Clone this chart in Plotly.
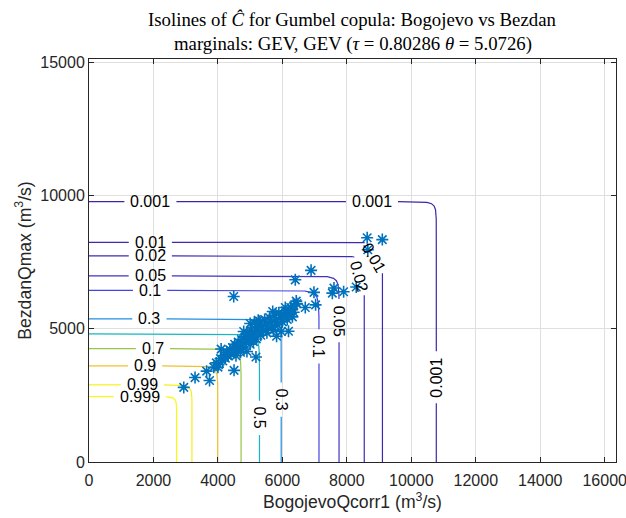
import numpy as np
import plotly.graph_objects as go

# Survival probability levels drawn as isolines
levels = [0.001, 0.01, 0.02, 0.05, 0.1, 0.3, 0.5, 0.7, 0.9, 0.99, 0.999]
# Marginal quantiles (m3/s) at non-exceedance probability 1 - level
bogojevo_quant = [10775, 9104, 8540, 7757, 7135, 5963, 5289, 4718, 3994, 3194, 2718]
bezdan_quant = [9775, 8248, 7737, 6987, 6447, 5373, 4810, 4259, 3610, 2897, 2458]

theta = 5.0726
tau = 0.80286

# Observed annual maxima: Bogojevo (x) vs Bezdan (y), m3/s
bogojevo_qmax = [
    3870, 3950, 4020, 4080, 4150, 4180, 4230, 4280, 4320, 4370, 4400, 4450,
    4480, 4520, 4560, 4590, 4630, 4660, 4700, 4730, 4760, 4800, 4840, 4870,
    4900, 4930, 4960, 5000, 5030, 5060, 5100, 5130, 5150, 5190, 5220, 5260,
    5300, 5330, 5370, 5410, 5450, 5480, 5520, 5560, 5600, 5640, 5680, 5720,
    5760, 5800, 5850, 5890, 5930, 5970, 6000, 6050, 6100, 6150, 6200, 6260,
    6310, 6350, 5000, 4800, 5250, 5700,
    2940, 3290, 3650, 3740, 4000, 4100, 4500, 5180, 5820, 6190, 4490, 5980,
    6300, 6090, 6430, 6710, 6980, 7030, 6400, 6890, 7550, 7600, 7900, 8290,
    8630, 8650, 9100, 6350, 6450,
]
bezdan_qmax = [
    3560, 3720, 3650, 3880, 3790, 4000, 3900, 4120, 3980, 4210, 4060, 4300,
    4150, 4420, 3990, 4250, 4500, 4330, 4120, 4600, 4420, 4280, 4700, 4520,
    4150, 4800, 4600, 4420, 4950, 4700, 4520, 5220, 4850, 4620, 5050, 4900,
    5280, 4760, 5100, 4950, 5350, 5180, 4850, 5020, 5420, 5250, 5100, 4950,
    5500, 5330, 5150, 5600, 5420, 4900, 5260, 5500, 5680, 5350, 5550, 5800,
    5450, 5620, 5200, 4900, 5320, 5650,
    2800, 3170, 3410, 3060, 3560, 4240, 3440, 3940, 4720, 4910, 6215, 5540,
    5740, 5800, 6040, 5800, 6370, 5900, 6840, 7195, 6340, 6530, 6390, 6570,
    8420, 7970, 8350, 5860, 5950,
]

# Contour label placement: (level, anchor x, anchor y, read upward)
label_spots = [
    (0.001, 1880, 9775, False), (0.001, 8780, 9775, False),
    (0.01, 2170, 8248, False), (0.02, 2020, 7737, False),
    (0.05, 1760, 6987, False), (0.1, 1390, 6447, False),
    (0.3, 1050, 5373, False), (0.7, 1985, 4259, False),
    (0.9, 1740, 3610, False), (0.99, 1655, 2897, False),
    (0.999, 1577, 2458, False),
    (0.5, 5289, 1470, False), (0.3, 5963, 2345, False),
    (0.1, 7135, 4345, False), (0.05, 7757, 5310, False),
    (0.02, 8545, 7073, False), (0.01, 9104, 7899, False),
    (0.001, 10775, 3190, True),
]

# parula colours for each level
level_colors = {
    0.001: "#3e26a8", 0.01: "#3e28ad", 0.02: "#3f2bb3", 0.05: "#4032c4",
    0.1: "#4444e0", 0.3: "#1f8fe6", 0.5: "#17b6c2", 0.7: "#98c644",
    0.9: "#f0c030", 0.99: "#f6ef18", 0.999: "#f9fb0e",
}

W, H = 626, 518
ML, MR, MT, MB = 89, 10, 59, 56
PW, PH = W - ML - MR, H - MT - MB
XMAX, YMAX = 16350, 15130
LABEL_FS = 16
TICK_FS = 16
TITLE_FS = 17.6
SANS = "Liberation Sans, Arial, sans-serif"
SERIF = "Liberation Serif, Times New Roman, serif"


def make_quantile(q):
    p = 1 - np.array(levels, dtype=float)
    z = -np.log(-np.log(p))
    order = np.argsort(z)
    z = z[order]
    qv = np.array(q, dtype=float)[order]
    s0 = (qv[1] - qv[0]) / (z[1] - z[0])
    s1 = (qv[-1] - qv[-2]) / (z[-1] - z[-2])

    def quant(pp):
        zz = -np.log(-np.log(pp))
        out = np.interp(zz, z, qv)
        out = np.where(zz < z[0], qv[0] + (zz - z[0]) * s0, out)
        out = np.where(zz > z[-1], qv[-1] + (zz - z[-1]) * s1, out)
        return out
    return quant


qx = make_quantile(bogojevo_quant)
qy = make_quantile(bezdan_quant)


def gumbel(u, v):
    return np.exp(-((-np.log(u)) ** theta + (-np.log(v)) ** theta) ** (1 / theta))


def joint_survival(u, v):
    return 1 - u - v + gumbel(u, v)


def solve_other(a, t):
    lo = np.zeros_like(a)
    hi = np.ones_like(a)
    for _ in range(90):
        mid = 0.5 * (lo + hi)
        f = joint_survival(a, mid) - t
        lo = np.where(f > 0, mid, lo)
        hi = np.where(f > 0, hi, mid)
    return 0.5 * (lo + hi)


def isoline(t):
    w = np.concatenate([np.linspace(1e-6, 1, 300), 1 - np.logspace(-11, -0.3, 400)])
    w = np.unique(np.clip(w, 1e-6, 1 - 1e-12))
    a = (1 - t) * w
    b = solve_other(a, t)
    u = np.concatenate([a, b])
    v = np.concatenate([b, a])
    order = np.argsort(u - v)
    x = qx(u[order])
    y = qy(v[order])
    keep = (x >= 0) & (y >= 0)
    x, y = x[keep], y[keep]
    x = np.concatenate([[0.0], x, [x[-1]]])
    y = np.concatenate([[y[0]], y, [0.0]])
    return x, y


def to_px(x, y):
    return ML + x / XMAX * PW, MT + (YMAX - y) / YMAX * PH


def from_px(px, py):
    return (px - ML) / PW * XMAX, YMAX - (py - MT) / PH * YMAX


def text_width(s):
    return LABEL_FS * sum(0.278 if c == "." else 0.556 for c in s)


fig = go.Figure()
annotations = []

for t in levels:
    x, y = isoline(t)
    px, py = to_px(x, y)
    s = np.concatenate([[0.0], np.cumsum(np.hypot(np.diff(px), np.diff(py)))])
    gaps = []
    for lv, ax, ay, upward in label_spots:
        if lv != t:
            continue
        apx, apy = to_px(ax, ay)
        i0 = int(np.argmin(np.hypot(px - apx, py - apy)))
        txt = f"{t:g}"
        half = (text_width(txt) + 12) / 2
        sa, sb = max(s[i0] - half, 0.0), min(s[i0] + half, s[-1])
        xa, ya = np.interp(sa, s, px), np.interp(sa, s, py)
        xb, yb = np.interp(sb, s, px), np.interp(sb, s, py)
        ang = np.degrees(np.arctan2(yb - ya, xb - xa))
        if upward:
            ang -= 180
        cx, cy = from_px((xa + xb) / 2, (ya + yb) / 2)
        gaps.append((sa, sb))
        annotations.append(dict(
            x=cx, y=cy, xref="x", yref="y", text=txt, showarrow=False,
            textangle=float(ang), xanchor="center", yanchor="middle",
            font=dict(family=SANS, size=LABEL_FS, color="#000000"),
        ))
    extra = []
    for sa, sb in gaps:
        extra += [sa, sb, 0.5 * (sa + sb)]
    ss = np.unique(np.concatenate([s, np.array(extra)]))
    lx = np.interp(ss, s, x)
    ly = np.interp(ss, s, y)
    for sa, sb in gaps:
        inside = (ss > sa + 1e-9) & (ss < sb - 1e-9)
        lx[inside] = np.nan
        ly[inside] = np.nan
    fig.add_trace(go.Scatter(
        x=lx, y=ly, mode="lines", connectgaps=False, hoverinfo="skip",
        line=dict(color=level_colors[t], width=1.2), showlegend=False,
    ))

fig.add_trace(go.Scatter(
    x=bogojevo_qmax, y=bezdan_qmax, mode="markers", showlegend=False,
    marker=dict(symbol="asterisk-open", size=10, color="#0072BD",
                line=dict(color="#0072BD", width=1.6)),
))

annotations.append(dict(
    x=0.5, y=1, xref="paper", yref="paper", yshift=40, showarrow=False,
    xanchor="center", yanchor="middle",
    text="Isolines of <i>Ĉ</i> for Gumbel copula: Bogojevo vs Bezdan",
    font=dict(family=SERIF, size=18.8, color="#000000"),
))
annotations.append(dict(
    x=0.5, y=1, xref="paper", yref="paper", yshift=15, showarrow=False,
    xanchor="center", yanchor="middle",
    text=f"marginals: GEV, GEV (<i>τ</i> = {tau} <i>θ</i> = {theta})",
    font=dict(family=SERIF, size=18.8, color="#000000"),
))

axis_common = dict(
    ticks="inside", ticklen=5, tickwidth=1, tickcolor="#262626",
    showline=True, linecolor="#262626", linewidth=1, mirror="ticks",
    showgrid=True, gridcolor="#dfdfdf", gridwidth=1, zeroline=False,
    tickformat="d", ticklabeloverflow="allow",
    tickfont=dict(family=SANS, size=TICK_FS, color="#262626"),
)

fig.update_layout(
    template="none",
    width=W, height=H,
    margin=dict(l=ML, r=MR, t=MT, b=MB, autoexpand=False),
    paper_bgcolor="white", plot_bgcolor="white",
    xaxis=dict(range=[0, XMAX], tickvals=list(range(0, 16001, 2000)),
               ticklabelstandoff=4,
               title=dict(text="BogojevoQcorr1 (m<sup>3</sup>/s)", standoff=7,
                          font=dict(family=SANS, size=TITLE_FS, color="#262626")),
               **axis_common),
    yaxis=dict(range=[0, YMAX], tickvals=[0, 5000, 10000, 15000],
               title=dict(text="BezdanQmax (m<sup>3</sup>/s)", standoff=4,
                          font=dict(family=SANS, size=TITLE_FS, color="#262626")),
               **axis_common),
    annotations=annotations,
)

fig.write_html("out.html")
